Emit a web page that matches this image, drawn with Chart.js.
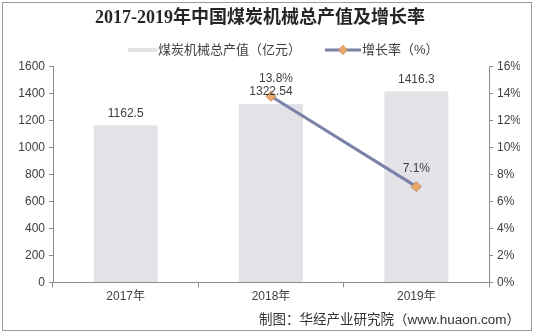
<!DOCTYPE html>
<html><head><meta charset="utf-8">
<script src="https://cdn.jsdelivr.net/npm/chart.js@4/dist/chart.umd.min.js"></script>
<style>html,body{margin:0;padding:0;background:#fff}#wrap{width:536px;height:336px;position:relative}</style>
</head><body><div id="wrap"><canvas id="c" width="536" height="336"></canvas></div>
<script>
const titleText = '2017-2019年中国煤炭机械总产值及增长率';
const footerText = '制图：华经产业研究院（www.huaon.com）';
const categories = ['2017年', '2018年', '2019年'];
const outputValues = [1162.5, 1322.54, 1416.3];
const growthRates = [null, 13.8, 7.1];
const outputLabels = ['1162.5', '1322.54', '1416.3'];
const growthLabels = [null, '13.8%', '7.1%'];
const seriesNames = ['煤炭机械总产值（亿元）', '增长率（%）'];

const SANS = "'Liberation Sans', 'Noto Sans CJK SC', sans-serif";
const BAR_COLOR = '#e2e2e7';
const LINE_COLOR = '#7a82a8';
const MARK_FILL = '#eaa96c';
const MARK_EDGE = '#c98a55';
const AXIS_COLOR = '#8c8c8c';
const TEXT_COLOR = '#404040';

const framePlugin = {
  id: 'frame',
  afterDraw(chart) {
    const ctx = chart.ctx; ctx.save();
    ctx.strokeStyle = '#9a9a9a'; ctx.lineWidth = 1;
    ctx.strokeRect(2.5, 2.5, 529, 328);
    ctx.restore();
  }
};

// legend drawn as text + swatches in the reserved band under the title
const legendPlugin = {
  id: 'customLegend',
  afterDraw(chart) {
    const ctx = chart.ctx; ctx.save();
    ctx.font = '13px ' + SANS; ctx.fillStyle = TEXT_COLOR;
    ctx.textAlign = 'left'; ctx.textBaseline = 'middle';
    const y = 50;
    let x = 128;
    ctx.fillStyle = BAR_COLOR; ctx.fillRect(x, y - 2, 29, 4);
    x += 30;
    ctx.fillStyle = TEXT_COLOR; ctx.fillText(seriesNames[0], x, y);
    x += ctx.measureText(seriesNames[0]).width + 24;
    ctx.strokeStyle = LINE_COLOR; ctx.lineWidth = 3;
    ctx.beginPath(); ctx.moveTo(x, y); ctx.lineTo(x + 36, y); ctx.stroke();
    const cx = x + 18;
    ctx.fillStyle = MARK_FILL; ctx.strokeStyle = MARK_EDGE; ctx.lineWidth = 1;
    ctx.beginPath(); ctx.moveTo(cx, y - 4.5); ctx.lineTo(cx + 4.5, y); ctx.lineTo(cx, y + 4.5); ctx.lineTo(cx - 4.5, y); ctx.closePath(); ctx.fill(); ctx.stroke();
    x += 37;
    ctx.fillStyle = TEXT_COLOR; ctx.fillText(seriesNames[1], x, y);
    ctx.restore();
  }
};

const labelPlugin = {
  id: 'valueLabels',
  afterDatasetsDraw(chart) {
    const ctx = chart.ctx; ctx.save();
    ctx.font = '12px ' + SANS; ctx.fillStyle = TEXT_COLOR;
    ctx.textAlign = 'center'; ctx.textBaseline = 'middle';
    chart.getDatasetMeta(0).data.forEach((el, i) => {
      ctx.fillText(outputLabels[i], el.x, el.y - 12);
    });
    chart.getDatasetMeta(1).data.forEach((el, i) => {
      if (growthLabels[i] == null) return;
      ctx.fillText(growthLabels[i], el.x + (i === 1 ? 5 : 0), el.y - 18);
    });
    ctx.restore();
  }
};

new Chart(document.getElementById('c'), {
  data: {
    labels: categories,
    datasets: [
      { type: 'bar', label: seriesNames[0], data: outputValues, backgroundColor: BAR_COLOR,
        yAxisID: 'y', barPercentage: 0.44, categoryPercentage: 1, order: 2 },
      { type: 'line', label: seriesNames[1], data: growthRates, yAxisID: 'y1', borderColor: LINE_COLOR,
        borderWidth: 3, pointStyle: 'rectRot', pointRadius: 5, pointBackgroundColor: MARK_FILL,
        pointBorderColor: MARK_EDGE, pointBorderWidth: 1, order: 1, spanGaps: false }
    ]
  },
  options: {
    responsive: false, animation: false,
    layout: { padding: { left: 0, right: 16, top: 0, bottom: 0 } },
    plugins: {
      title: { display: true, text: titleText, color: '#262626',
        font: { family: "'Liberation Serif', 'Noto Sans CJK SC', serif", size: 18, weight: 'bold' },
        padding: { top: 8, bottom: 37 } },
      subtitle: { display: true, position: 'bottom', align: 'end', text: footerText, color: '#333',
        font: { family: SANS, size: 13.5 }, padding: { top: 1, bottom: 8 } },
      legend: { display: false },
      tooltip: { enabled: false }
    },
    scales: {
      x: { offset: true,
        afterFit(s) { s.height = 28.4; },
        grid: { display: true, offset: true, drawOnChartArea: false, drawTicks: true, tickLength: 5, color: AXIS_COLOR },
        border: { display: true, color: AXIS_COLOR },
        ticks: { color: TEXT_COLOR, font: { family: SANS, size: 12 }, padding: 2 } },
      y: { position: 'left', min: 0, max: 1600,
        afterFit(s) { s.width = 53; },
        grid: { display: true, drawOnChartArea: false, drawTicks: true, tickLength: 4, color: AXIS_COLOR },
        border: { display: true, color: AXIS_COLOR },
        ticks: { stepSize: 200, color: TEXT_COLOR, font: { family: SANS, size: 12 }, padding: 4,
          callback: v => String(v) } },
      y1: { position: 'right', min: 0, max: 16,
        afterFit(s) { s.width = 31; },
        grid: { display: true, drawOnChartArea: false, drawTicks: true, tickLength: 4, color: AXIS_COLOR },
        border: { display: true, color: AXIS_COLOR },
        ticks: { stepSize: 2, color: TEXT_COLOR, font: { family: SANS, size: 12 }, padding: 4,
          callback: v => v + '%' } }
    }
  },
  plugins: [framePlugin, legendPlugin, labelPlugin]
});
</script></body></html>
